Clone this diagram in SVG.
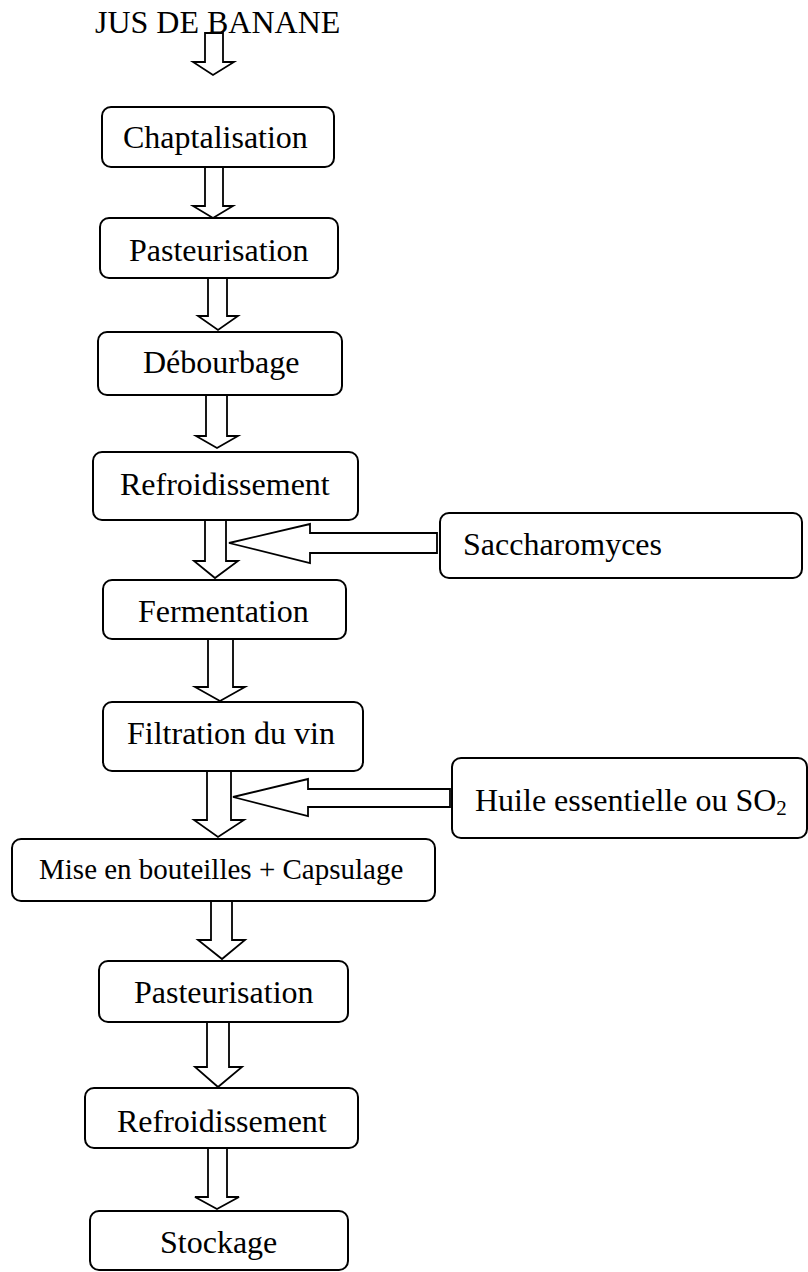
<svg xmlns="http://www.w3.org/2000/svg" width="808" height="1272" viewBox="0 0 808 1272">
<style>
.box{fill:#fff;stroke:#000;stroke-width:2}
.arr{fill:#fff;stroke:#000;stroke-width:1.8;stroke-linejoin:miter}
.t{font-family:"Liberation Serif","Times New Roman",serif;font-size:32px;fill:#000}
</style>
<rect width="808" height="1272" fill="#fff"/>
<g id="n0"><text class="t" x="95" y="33">JUS DE BANANE</text></g>
<g id="connectors">
<polygon class="arr" points="205,33 223,33 223,62 234,62 213,75 193,62 205,62"/>
<polygon class="arr" points="205,167 223,167 223,206 233,206 213,218 193,206 205,206"/>
<polygon class="arr" points="208,278 227,278 227,316 238,316 218,330 198,316 208,316"/>
<polygon class="arr" points="206,395 227,395 227,436 238,436 217,448 196,436 206,436"/>
<polygon class="arr" points="205,520 226,520 226,561 238,561 215,578 194,561 205,561"/>
<polygon class="arr" points="437,533 310,533 310,524 229,543 310,563 310,553 437,553"/>
<polygon class="arr" points="208,639 233,639 233,687 245,687 220,701 195,687 208,687"/>
<polygon class="arr" points="207,771 231,771 231,820 244,820 218,837 194,820 207,820"/>
<polygon class="arr" points="450,789 308,789 308,779 233,797 308,816 308,807 450,807"/>
<polygon class="arr" points="211,901 232,901 232,940 245,940 222,959 198,940 211,940"/>
<polygon class="arr" points="207,1022 229,1022 229,1067 242,1067 218,1087 195,1067 207,1067"/>
<polygon class="arr" points="208,1148 227,1148 227,1197 239,1197 217,1209 195,1197 208,1197"/>
</g>
<g id="n1"><rect class="box" x="102" y="107" width="232" height="60" rx="9"/><text class="t" x="123" y="148">Chaptalisation</text></g>
<g id="n2"><rect class="box" x="100" y="218" width="238" height="60" rx="9"/><text class="t" x="129" y="261">Pasteurisation</text></g>
<g id="n3"><rect class="box" x="98" y="332" width="244" height="63" rx="9"/><text class="t" x="143" y="373">Débourbage</text></g>
<g id="n4"><rect class="box" x="93" y="452" width="265" height="68" rx="9"/><text class="t" x="120" y="495">Refroidissement</text></g>
<g id="n5"><rect class="box" x="440" y="513" width="362" height="65" rx="9"/><text class="t" x="463" y="555">Saccharomyces</text></g>
<g id="n6"><rect class="box" x="103" y="580" width="243" height="59" rx="9"/><text class="t" x="138" y="622">Fermentation</text></g>
<g id="n7"><rect class="box" x="103" y="702" width="260" height="69" rx="9"/><text class="t" x="127" y="744">Filtration du vin</text></g>
<g id="n8"><rect class="box" x="452" y="758" width="355" height="80" rx="9"/><text class="t" x="475" y="811">Huile essentielle ou SO<tspan font-size="21" dy="4">2</tspan></text></g>
<g id="n9"><rect class="box" x="12" y="839" width="423" height="62" rx="9"/><text class="t" x="39" y="879" style="font-size:29px">Mise en bouteilles + Capsulage</text></g>
<g id="n10"><rect class="box" x="99" y="961" width="249" height="61" rx="9"/><text class="t" x="134" y="1003">Pasteurisation</text></g>
<g id="n11"><rect class="box" x="85" y="1088" width="273" height="60" rx="9"/><text class="t" x="117" y="1132">Refroidissement</text></g>
<g id="n12"><rect class="box" x="90" y="1211" width="258" height="59" rx="9"/><text class="t" x="160" y="1253">Stockage</text></g>
</svg>
